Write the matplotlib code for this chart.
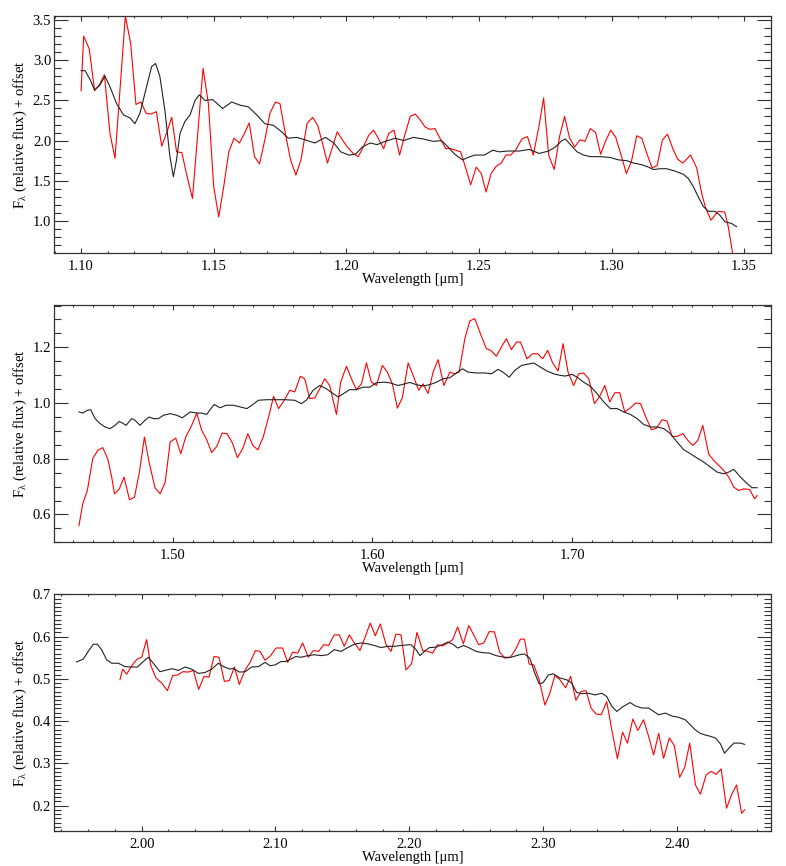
import matplotlib
matplotlib.use('Agg')
from matplotlib import pyplot as plt
from matplotlib.ticker import MultipleLocator, FormatStrFormatter

plt.rcParams['font.family'] = ['Liberation Serif', 'DejaVu Serif']
plt.rcParams['mathtext.fontset'] = 'custom'
plt.rcParams['mathtext.rm'] = 'Liberation Serif'
plt.rcParams['mathtext.it'] = 'Liberation Serif:italic'

# J band: observed (red) and model (black)
j_obs_wave = [1.1000, 1.1010, 1.1031, 1.1051, 1.1070, 1.1088, 1.1109, 1.1128, 1.1167, 1.1187,
              1.1207, 1.1226, 1.1245, 1.1264, 1.1284, 1.1304, 1.1323, 1.1342, 1.1360, 1.1380,
              1.1400, 1.1420, 1.1460, 1.1480, 1.1500, 1.1519, 1.1538, 1.1557, 1.1577, 1.1597,
              1.1616, 1.1634, 1.1654, 1.1673, 1.1693, 1.1712, 1.1733, 1.1750, 1.1770, 1.1790,
              1.1810, 1.1829, 1.1852, 1.1873, 1.1892, 1.1910, 1.1929, 1.1948, 1.1966, 1.1985,
              1.2004, 1.2026, 1.2045, 1.2064, 1.2085, 1.2103, 1.2122, 1.2141, 1.2160, 1.2180,
              1.2201, 1.2219, 1.2241, 1.2260, 1.2278, 1.2297, 1.2315, 1.2334, 1.2353, 1.2375,
              1.2394, 1.2413, 1.2431, 1.2450, 1.2469, 1.2490, 1.2509, 1.2527, 1.2546, 1.2565,
              1.2584, 1.2602, 1.2620, 1.2640, 1.2662, 1.2683, 1.2705, 1.2726, 1.2744, 1.2763,
              1.2784, 1.2804, 1.2823, 1.2842, 1.2861, 1.2881, 1.2900, 1.2920, 1.2940, 1.2959,
              1.2977, 1.2997, 1.3016, 1.3036, 1.3056, 1.3075, 1.3095, 1.3114, 1.3133, 1.3153,
              1.3172, 1.3192, 1.3211, 1.3231, 1.3249, 1.3269, 1.3298, 1.3321, 1.3340, 1.3355,
              1.3375, 1.3402, 1.3427, 1.3440, 1.3459]
j_obs_flux = [2.62, 3.30, 3.14, 2.62, 2.70, 2.82, 2.09, 1.78, 3.55, 3.21,
              2.45, 2.48, 2.34, 2.33, 2.36, 1.93, 2.10, 2.29, 1.86, 1.85,
              1.55, 1.28, 2.90, 2.46, 1.43, 1.05, 1.43, 1.86, 2.03, 1.97,
              2.09, 2.22, 1.80, 1.71, 2.01, 2.34, 2.48, 2.46, 2.09, 1.76,
              1.57, 1.76, 2.21, 2.29, 2.19, 1.97, 1.72, 1.92, 2.11, 2.01,
              1.92, 1.84, 1.80, 1.92, 2.07, 2.13, 2.02, 1.90, 2.09, 2.13,
              1.82, 2.05, 2.30, 2.33, 2.26, 2.17, 2.14, 2.15, 2.03, 1.90,
              1.90, 1.88, 1.86, 1.66, 1.45, 1.67, 1.59, 1.36, 1.59, 1.68,
              1.72, 1.82, 1.82, 1.89, 2.02, 2.05, 1.82, 2.17, 2.53, 1.82,
              1.64, 2.05, 2.30, 2.03, 1.92, 2.01, 1.99, 2.15, 2.10, 1.83,
              1.99, 2.13, 2.04, 1.82, 1.59, 1.74, 2.06, 2.03, 1.84, 1.66,
              1.69, 2.01, 2.08, 1.90, 1.77, 1.72, 1.82, 1.66, 1.34, 1.16,
              1.01, 1.12, 1.11, 0.93, 0.55]
j_mod_wave = [1.1000, 1.1015, 1.1034, 1.1051, 1.1071, 1.1090, 1.1109, 1.1134, 1.1160, 1.1185,
              1.1203, 1.1222, 1.1247, 1.1266, 1.1281, 1.1297, 1.1316, 1.1335, 1.1348, 1.1360,
              1.1373, 1.1392, 1.1411, 1.1430, 1.1446, 1.1467, 1.1496, 1.1534, 1.1568, 1.1600,
              1.1631, 1.1662, 1.1693, 1.1725, 1.1756, 1.1781, 1.1813, 1.1844, 1.1881, 1.1922,
              1.1953, 1.1979, 1.2010, 1.2035, 1.2060, 1.2090, 1.2116, 1.2147, 1.2185, 1.2216,
              1.2253, 1.2290, 1.2328, 1.2359, 1.2384, 1.2409, 1.2438, 1.2459, 1.2484, 1.2521,
              1.2552, 1.2577, 1.2608, 1.2652, 1.2690, 1.2727, 1.2763, 1.2788, 1.2813, 1.2826,
              1.2845, 1.2870, 1.2895, 1.2920, 1.2958, 1.2995, 1.3026, 1.3058, 1.3083, 1.3114,
              1.3139, 1.3158, 1.3183, 1.3208, 1.3240, 1.3271, 1.3289, 1.3308, 1.3327, 1.3346,
              1.3365, 1.3390, 1.3409, 1.3427, 1.3452, 1.3471]
j_mod_flux = [2.87, 2.87, 2.76, 2.63, 2.69, 2.80, 2.67, 2.46, 2.32, 2.28,
              2.21, 2.34, 2.67, 2.92, 2.96, 2.80, 2.38, 1.80, 1.55, 1.76,
              2.09, 2.24, 2.32, 2.50, 2.57, 2.50, 2.51, 2.40, 2.48, 2.44,
              2.42, 2.32, 2.21, 2.19, 2.11, 2.03, 2.04, 2.01, 1.97, 2.04,
              1.97, 1.86, 1.82, 1.83, 1.92, 1.97, 1.95, 1.99, 2.03, 2.00,
              2.04, 2.02, 1.99, 2.00, 1.92, 1.83, 1.76, 1.79, 1.82, 1.82,
              1.88, 1.86, 1.87, 1.87, 1.89, 1.84, 1.87, 1.92, 2.00, 2.02,
              1.95, 1.86, 1.82, 1.80, 1.80, 1.79, 1.76, 1.75, 1.72, 1.70,
              1.67, 1.64, 1.65, 1.65, 1.62, 1.58, 1.53, 1.43, 1.30, 1.18,
              1.12, 1.12, 1.07, 0.99, 0.97, 0.93]

# H band
h_obs_wave = [1.4530, 1.4549, 1.4572, 1.4599, 1.4624, 1.4649, 1.4674, 1.4694, 1.4708, 1.4731,
              1.4756, 1.4783, 1.4808, 1.4833, 1.4858, 1.4883, 1.4911, 1.4937, 1.4962, 1.4987,
              1.5015, 1.5040, 1.5065, 1.5095, 1.5120, 1.5145, 1.5170, 1.5195, 1.5220, 1.5247,
              1.5272, 1.5299, 1.5324, 1.5350, 1.5376, 1.5401, 1.5426, 1.5453, 1.5480, 1.5505,
              1.5530, 1.5560, 1.5586, 1.5611, 1.5639, 1.5661, 1.5686, 1.5711, 1.5736, 1.5761,
              1.5786, 1.5820, 1.5841, 1.5870, 1.5895, 1.5920, 1.5945, 1.5970, 1.5995, 1.6020,
              1.6050, 1.6075, 1.6100, 1.6125, 1.6150, 1.6179, 1.6204, 1.6232, 1.6254, 1.6279,
              1.6304, 1.6329, 1.6358, 1.6388, 1.6413, 1.6434, 1.6463, 1.6488, 1.6513, 1.6541,
              1.6571, 1.6593, 1.6621, 1.6646, 1.6671, 1.6696, 1.6722, 1.6742, 1.6774, 1.6803,
              1.6828, 1.6853, 1.6878, 1.6903, 1.6930, 1.6955, 1.6980, 1.7008, 1.7033, 1.7058,
              1.7084, 1.7112, 1.7137, 1.7164, 1.7189, 1.7214, 1.7239, 1.7264, 1.7293, 1.7318,
              1.7343, 1.7373, 1.7398, 1.7423, 1.7451, 1.7476, 1.7501, 1.7526, 1.7555, 1.7580,
              1.7605, 1.7630, 1.7655, 1.7685, 1.7710, 1.7735, 1.7760, 1.7785, 1.7810, 1.7835,
              1.7860, 1.7890, 1.7915, 1.7927]
h_obs_flux = [0.560, 0.638, 0.686, 0.800, 0.830, 0.840, 0.800, 0.734, 0.674, 0.690,
              0.734, 0.653, 0.662, 0.752, 0.878, 0.782, 0.696, 0.674, 0.716, 0.860,
              0.874, 0.818, 0.878, 0.920, 0.964, 0.902, 0.868, 0.822, 0.844, 0.892,
              0.890, 0.856, 0.804, 0.836, 0.890, 0.848, 0.832, 0.878, 0.950, 1.024,
              0.980, 1.012, 1.046, 1.040, 1.096, 1.087, 1.016, 1.018, 1.051, 1.087,
              1.063, 0.959, 1.075, 1.132, 1.087, 1.048, 1.069, 1.144, 1.075, 1.063,
              1.135, 1.111, 1.069, 0.982, 1.019, 1.144, 1.099, 1.046, 1.069, 1.034,
              1.111, 1.156, 1.063, 1.111, 1.105, 1.111, 1.231, 1.295, 1.303, 1.249,
              1.195, 1.189, 1.168, 1.201, 1.231, 1.192, 1.219, 1.219, 1.159, 1.177,
              1.177, 1.159, 1.189, 1.144, 1.115, 1.213, 1.111, 1.063, 1.105, 1.108,
              1.087, 0.998, 1.022, 1.063, 1.004, 1.037, 1.037, 0.968, 0.983, 1.000,
              0.998, 0.944, 0.904, 0.910, 0.940, 0.935, 0.880, 0.880, 0.890, 0.866,
              0.848, 0.866, 0.920, 0.816, 0.794, 0.776, 0.758, 0.734, 0.698, 0.686,
              0.692, 0.689, 0.656, 0.668]
h_mod_wave = [1.4530, 1.4549, 1.4572, 1.4589, 1.4611, 1.4636, 1.4661, 1.4686, 1.4711, 1.4731,
              1.4748, 1.4766, 1.4794, 1.4811, 1.4836, 1.4861, 1.4881, 1.4903, 1.4928, 1.4953,
              1.4987, 1.5020, 1.5048, 1.5087, 1.5120, 1.5145, 1.5170, 1.5187, 1.5207, 1.5237,
              1.5267, 1.5304, 1.5338, 1.5371, 1.5396, 1.5429, 1.5471, 1.5521, 1.5561, 1.5611,
              1.5644, 1.5669, 1.5703, 1.5736, 1.5770, 1.5803, 1.5828, 1.5860, 1.5886, 1.5920,
              1.5953, 1.5987, 1.6020, 1.6062, 1.6090, 1.6129, 1.6162, 1.6187, 1.6220, 1.6254,
              1.6287, 1.6321, 1.6354, 1.6388, 1.6421, 1.6451, 1.6479, 1.6521, 1.6563, 1.6596,
              1.6629, 1.6654, 1.6685, 1.6713, 1.6747, 1.6788, 1.6808, 1.6841, 1.6875, 1.6908,
              1.6942, 1.6967, 1.7000, 1.7025, 1.7058, 1.7092, 1.7125, 1.7159, 1.7192, 1.7226,
              1.7259, 1.7292, 1.7326, 1.7359, 1.7393, 1.7426, 1.7460, 1.7493, 1.7526, 1.7560,
              1.7593, 1.7627, 1.7660, 1.7693, 1.7727, 1.7760, 1.7785, 1.7810, 1.7844, 1.7878,
              1.7902, 1.7927]
h_mod_flux = [0.968, 0.964, 0.974, 0.976, 0.944, 0.926, 0.914, 0.908, 0.920, 0.934,
              0.928, 0.920, 0.944, 0.938, 0.920, 0.938, 0.950, 0.944, 0.944, 0.956,
              0.962, 0.956, 0.947, 0.968, 0.964, 0.964, 0.959, 0.976, 0.995, 0.983,
              0.992, 0.992, 0.986, 0.980, 0.992, 1.010, 1.012, 1.012, 1.012, 1.010,
              0.998, 1.010, 1.046, 1.063, 1.051, 1.034, 1.022, 1.036, 1.048, 1.048,
              1.057, 1.057, 1.073, 1.075, 1.072, 1.063, 1.069, 1.074, 1.066, 1.061,
              1.066, 1.075, 1.087, 1.091, 1.108, 1.123, 1.111, 1.108, 1.108, 1.105,
              1.121, 1.111, 1.093, 1.117, 1.135, 1.141, 1.144, 1.129, 1.115, 1.105,
              1.099, 1.097, 1.103, 1.093, 1.075, 1.060, 1.034, 1.004, 0.980, 0.980,
              0.968, 0.959, 0.944, 0.923, 0.914, 0.914, 0.908, 0.890, 0.860, 0.832,
              0.818, 0.802, 0.788, 0.770, 0.752, 0.746, 0.752, 0.762, 0.734, 0.710,
              0.696, 0.696]

# K band
k_obs_wave = [1.9838, 1.9858, 1.9888, 1.9920, 1.9945, 1.9968, 2.0000, 2.0037, 2.0067, 2.0107,
              2.0150, 2.0192, 2.0232, 2.0269, 2.0307, 2.0349, 2.0386, 2.0426, 2.0466, 2.0503,
              2.0541, 2.0578, 2.0618, 2.0655, 2.0693, 2.0730, 2.0773, 2.0810, 2.0850, 2.0885,
              2.0922, 2.0964, 2.1004, 2.1053, 2.1091, 2.1128, 2.1166, 2.1203, 2.1245, 2.1282,
              2.1322, 2.1360, 2.1397, 2.1439, 2.1477, 2.1514, 2.1551, 2.1589, 2.1631, 2.1671,
              2.1708, 2.1746, 2.1783, 2.1826, 2.1863, 2.1900, 2.1938, 2.1975, 2.2017, 2.2057,
              2.2100, 2.2137, 2.2174, 2.2212, 2.2249, 2.2287, 2.2324, 2.2361, 2.2404, 2.2444,
              2.2481, 2.2518, 2.2556, 2.2598, 2.2636, 2.2675, 2.2715, 2.2755, 2.2793, 2.2830,
              2.2860, 2.2895, 2.2930, 2.2970, 2.3013, 2.3050, 2.3088, 2.3125, 2.3168, 2.3205,
              2.3245, 2.3283, 2.3320, 2.3358, 2.3395, 2.3433, 2.3475, 2.3513, 2.3555, 2.3593,
              2.3630, 2.3670, 2.3708, 2.3750, 2.3788, 2.3825, 2.3863, 2.3900, 2.3943, 2.3980,
              2.4020, 2.4058, 2.4095, 2.4138, 2.4175, 2.4218, 2.4255, 2.4293, 2.4330, 2.4370,
              2.4408, 2.4445, 2.4483, 2.4505]
k_obs_flux = [0.498, 0.523, 0.511, 0.528, 0.539, 0.547, 0.551, 0.593, 0.533, 0.502,
              0.490, 0.472, 0.508, 0.509, 0.517, 0.516, 0.520, 0.475, 0.506, 0.504,
              0.553, 0.551, 0.494, 0.496, 0.528, 0.487, 0.521, 0.539, 0.567, 0.565,
              0.544, 0.555, 0.573, 0.573, 0.539, 0.563, 0.561, 0.585, 0.551, 0.567,
              0.565, 0.581, 0.579, 0.604, 0.604, 0.577, 0.604, 0.585, 0.567, 0.600,
              0.632, 0.602, 0.630, 0.581, 0.565, 0.606, 0.604, 0.521, 0.536, 0.610,
              0.567, 0.565, 0.561, 0.581, 0.578, 0.585, 0.593, 0.623, 0.583, 0.626,
              0.604, 0.581, 0.585, 0.612, 0.611, 0.563, 0.549, 0.551, 0.569, 0.594,
              0.594, 0.535, 0.533, 0.498, 0.438, 0.466, 0.509, 0.498, 0.479, 0.506,
              0.449, 0.470, 0.472, 0.431, 0.417, 0.415, 0.446, 0.379, 0.311, 0.374,
              0.348, 0.405, 0.378, 0.403, 0.364, 0.320, 0.371, 0.312, 0.360, 0.342,
              0.267, 0.291, 0.348, 0.249, 0.227, 0.273, 0.281, 0.274, 0.287, 0.194,
              0.226, 0.249, 0.182, 0.190]
k_mod_wave = [1.9514, 1.9564, 1.9601, 1.9639, 1.9669, 1.9701, 1.9738, 1.9776, 1.9826, 1.9875,
              1.9925, 1.9968, 2.0012, 2.0050, 2.0087, 2.0137, 2.0187, 2.0229, 2.0274, 2.0324,
              2.0374, 2.0424, 2.0474, 2.0523, 2.0573, 2.0611, 2.0660, 2.0686, 2.0730, 2.0773,
              2.0822, 2.0872, 2.0922, 2.0960, 2.0997, 2.1041, 2.1078, 2.1153, 2.1190, 2.1240,
              2.1290, 2.1340, 2.1390, 2.1439, 2.1489, 2.1539, 2.1589, 2.1638, 2.1688, 2.1738,
              2.1788, 2.1837, 2.1887, 2.1937, 2.2012, 2.2050, 2.2080, 2.2112, 2.2150, 2.2199,
              2.2249, 2.2287, 2.2324, 2.2361, 2.2406, 2.2449, 2.2499, 2.2548, 2.2598, 2.2648,
              2.2710, 2.2760, 2.2822, 2.2860, 2.2900, 2.2938, 2.2970, 2.3000, 2.3038, 2.3075,
              2.3125, 2.3175, 2.3213, 2.3250, 2.3288, 2.3338, 2.3388, 2.3438, 2.3475, 2.3513,
              2.3550, 2.3600, 2.3650, 2.3688, 2.3738, 2.3788, 2.3825, 2.3863, 2.3913, 2.3963,
              2.4013, 2.4063, 2.4100, 2.4138, 2.4175, 2.4213, 2.4250, 2.4288, 2.4325, 2.4355,
              2.4388, 2.4425, 2.4475, 2.4505]
k_mod_flux = [0.540, 0.547, 0.565, 0.582, 0.582, 0.569, 0.545, 0.537, 0.537, 0.529,
              0.528, 0.528, 0.541, 0.551, 0.537, 0.517, 0.521, 0.524, 0.520, 0.528,
              0.523, 0.513, 0.515, 0.523, 0.537, 0.529, 0.523, 0.525, 0.516, 0.517,
              0.528, 0.529, 0.539, 0.531, 0.533, 0.541, 0.541, 0.553, 0.551, 0.555,
              0.557, 0.555, 0.557, 0.569, 0.565, 0.574, 0.582, 0.585, 0.583, 0.579,
              0.574, 0.577, 0.577, 0.579, 0.581, 0.569, 0.555, 0.565, 0.574, 0.575,
              0.581, 0.587, 0.582, 0.573, 0.579, 0.573, 0.565, 0.562, 0.561, 0.555,
              0.551, 0.551, 0.557, 0.559, 0.549, 0.513, 0.488, 0.491, 0.509, 0.512,
              0.502, 0.498, 0.490, 0.468, 0.465, 0.466, 0.462, 0.466, 0.458, 0.435,
              0.423, 0.435, 0.444, 0.436, 0.431, 0.431, 0.423, 0.415, 0.419, 0.412,
              0.409, 0.403, 0.391, 0.379, 0.371, 0.367, 0.364, 0.360, 0.346, 0.324,
              0.336, 0.348, 0.348, 0.345]

AXCOL = '#333333'


def draw_panel(ax, obs_w, obs_f, mod_w, mod_f, xlim, ylim, xmaj, xmin, ymaj, ymin):
    ax.plot(obs_w, obs_f, color='#ff0000', lw=0.8)
    ax.plot(mod_w, mod_f, color='#222222', lw=0.8)
    ax.set_xlim(*xlim)
    ax.set_ylim(*ylim)
    ax.xaxis.set_major_locator(MultipleLocator(xmaj))
    ax.xaxis.set_minor_locator(MultipleLocator(xmin))
    ax.yaxis.set_major_locator(MultipleLocator(ymaj))
    ax.yaxis.set_minor_locator(MultipleLocator(ymin))
    ax.xaxis.set_major_formatter(FormatStrFormatter('%.2f'))
    ax.yaxis.set_major_formatter(FormatStrFormatter('%.1f'))
    # IDL style: inward ticks on every side
    ax.tick_params(axis='both', which='both', direction='in', top=True, right=True,
                   color=AXCOL, width=0.8, labelsize=10.5)
    ax.tick_params(axis='y', which='major', length=10.3, pad=2)
    ax.tick_params(axis='y', which='minor', length=5.2)
    ax.tick_params(axis='x', which='major', length=3.4, pad=5)
    ax.tick_params(axis='x', which='minor', length=1.7)
    for s in ax.spines.values():
        s.set_color(AXCOL)
        s.set_linewidth(0.9)
    ax.set_xlabel('Wavelength [\u03bcm]', fontsize=10.5, labelpad=0)
    ax.set_ylabel(r'F$_\mathrm{\lambda}$ (relative flux) + offset', fontsize=10.5, labelpad=3)


fig = plt.figure(figsize=(7.86, 8.66), dpi=100)
ax1 = fig.add_axes([0.0687, 0.7082, 0.9118, 0.2733])
ax2 = fig.add_axes([0.0687, 0.3738, 0.9118, 0.2740])
ax3 = fig.add_axes([0.0687, 0.0404, 0.9118, 0.2733])

draw_panel(ax1, j_obs_wave, j_obs_flux, j_mod_wave, j_mod_flux,
           (1.0898, 1.360), (0.605, 3.55), 0.05, 0.01, 0.5, 0.1)
draw_panel(ax2, h_obs_wave, h_obs_flux, h_mod_wave, h_mod_flux,
           (1.4405, 1.7995), (0.50, 1.352), 0.10, 0.01, 0.2, 0.05)
draw_panel(ax3, k_obs_wave, k_obs_flux, k_mod_wave, k_mod_flux,
           (1.9345, 2.470), (0.14, 0.70), 0.10, 0.02, 0.1, 0.01)

fig.savefig('out.png', dpi=100)
